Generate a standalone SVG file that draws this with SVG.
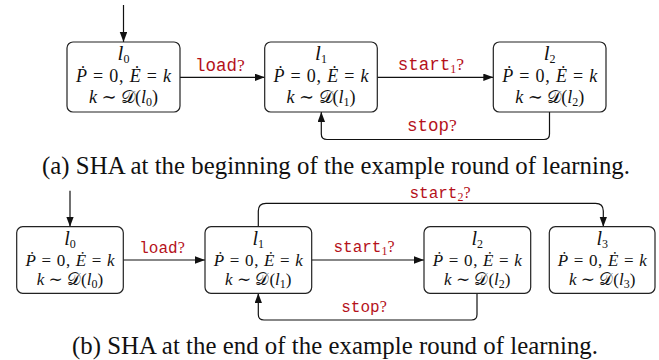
<svg xmlns="http://www.w3.org/2000/svg" width="659" height="360" viewBox="0 0 659 360">
<style>
.box{fill:#fff;stroke:#222;stroke-width:1.2}
.edge{fill:none;stroke:#111;stroke-width:1.2}
.m{font-family:"Liberation Serif","DejaVu Serif",serif;fill:#111;text-anchor:middle}
.mt{font-size:18px}
.mb{font-size:17px}
.h1{font-size:21px}
.h2{font-size:20px}
.i{font-style:italic}
.sub{font-size:12px}
.lbl{font-family:"Liberation Serif","DejaVu Serif",serif;fill:#b5121b;text-anchor:middle}
.tt{font-family:"Liberation Mono","DejaVu Sans Mono",monospace}
.cap{font-family:"Liberation Serif","Times New Roman",serif;font-size:24.8px;fill:#111}
</style>
<defs>
<marker id="ah" markerUnits="userSpaceOnUse" markerWidth="11" markerHeight="8" refX="10" refY="3.75" orient="auto">
<path d="M0,0 L10,3.75 L0,7.5 z" fill="#111"/>
</marker>
</defs>

<g id="connectors">
<path class="edge" d="M123.5,5 V42" marker-end="url(#ah)"/>
<path class="edge" d="M180,77.3 H264.7" marker-end="url(#ah)"/>
<path class="edge" d="M377.3,77.3 H493.3" marker-end="url(#ah)"/>
<path class="edge" d="M549.5,112 V134 Q549.5,139.5 544,139.5 H327 Q321.3,139.5 321.3,134 V112" marker-end="url(#ah)"/>
<path class="edge" d="M70,190.7 V226.7" marker-end="url(#ah)"/>
<path class="edge" d="M123.3,260 H205" marker-end="url(#ah)"/>
<path class="edge" d="M311.7,260 H424" marker-end="url(#ah)"/>
<path class="edge" d="M477,293.3 V314.5 Q477,320 471.5,320 H264 Q258.3,320 258.3,314.5 V293.3" marker-end="url(#ah)"/>
<path class="edge" d="M258.3,226.7 V211 Q258.3,203.3 266,203.3 H595.5 Q603.3,203.3 603.3,211 V226.7" marker-end="url(#ah)"/>
<text class="lbl" x="220" y="70.5" font-size="17.5"><tspan class="tt">load</tspan>?</text>
<text class="lbl" x="431" y="69.5" font-size="17.5"><tspan class="tt">start</tspan><tspan class="sub" dy="3">1</tspan><tspan dy="-3">?</tspan></text>
<text class="lbl" x="432" y="131" font-size="17.5"><tspan class="tt">stop</tspan>?</text>
<text class="lbl" x="162" y="253" font-size="16"><tspan class="tt">load</tspan>?</text>
<text class="lbl" x="364" y="251.5" font-size="16"><tspan class="tt">start</tspan><tspan class="sub" font-size="11" dy="3">1</tspan><tspan dy="-3">?</tspan></text>
<text class="lbl" x="364" y="312" font-size="16"><tspan class="tt">stop</tspan>?</text>
<text class="lbl" x="440" y="197.5" font-size="16"><tspan class="tt">start</tspan><tspan class="sub" font-size="11" dy="3">2</tspan><tspan dy="-3">?</tspan></text>
</g>

<g id="a_l0">
<rect class="box" x="67" y="42" width="113" height="70" rx="6"/>
<text class="m h1" x="123.5" y="60"><tspan class="i">l</tspan><tspan class="sub" font-size="14" dy="3">0</tspan></text>
<text class="m mt" x="123.5" y="82" textLength="95"><tspan class="i">Ṗ</tspan> = 0, <tspan class="i">Ė</tspan> = <tspan class="i">k</tspan></text>
<text class="m mt" x="123.5" y="103"><tspan class="i">k</tspan> ∼ 𝒟(<tspan class="i">l</tspan><tspan class="sub" dy="3">0</tspan><tspan dy="-3">)</tspan></text>
</g>
<g id="a_l1">
<rect class="box" x="264.7" y="42" width="112.6" height="70" rx="6"/>
<text class="m h1" x="321" y="60"><tspan class="i">l</tspan><tspan class="sub" font-size="14" dy="3">1</tspan></text>
<text class="m mt" x="321" y="82" textLength="95"><tspan class="i">Ṗ</tspan> = 0, <tspan class="i">Ė</tspan> = <tspan class="i">k</tspan></text>
<text class="m mt" x="321" y="103"><tspan class="i">k</tspan> ∼ 𝒟(<tspan class="i">l</tspan><tspan class="sub" dy="3">1</tspan><tspan dy="-3">)</tspan></text>
</g>
<g id="a_l2">
<rect class="box" x="493.3" y="42" width="112.7" height="70" rx="6"/>
<text class="m h1" x="549.7" y="60"><tspan class="i">l</tspan><tspan class="sub" font-size="14" dy="3">2</tspan></text>
<text class="m mt" x="549.7" y="82" textLength="95"><tspan class="i">Ṗ</tspan> = 0, <tspan class="i">Ė</tspan> = <tspan class="i">k</tspan></text>
<text class="m mt" x="549.7" y="103"><tspan class="i">k</tspan> ∼ 𝒟(<tspan class="i">l</tspan><tspan class="sub" dy="3">2</tspan><tspan dy="-3">)</tspan></text>
</g>
<g id="caption_a">
<text class="cap" x="42" y="174" textLength="588">(a) SHA at the beginning of the example round of learning.</text>
</g>

<g id="b_l0">
<rect class="box" x="16.7" y="226.7" width="106.6" height="66.6" rx="6"/>
<text class="m h2" x="70" y="245"><tspan class="i">l</tspan><tspan class="sub" font-size="13" dy="3">0</tspan></text>
<text class="m mb" x="70" y="265.5" textLength="89"><tspan class="i">Ṗ</tspan> = 0, <tspan class="i">Ė</tspan> = <tspan class="i">k</tspan></text>
<text class="m mb" x="70" y="284.5"><tspan class="i">k</tspan> ∼ 𝒟(<tspan class="i">l</tspan><tspan class="sub" dy="3">0</tspan><tspan dy="-3">)</tspan></text>
</g>
<g id="b_l1">
<rect class="box" x="205" y="226.7" width="106.7" height="66.6" rx="6"/>
<text class="m h2" x="258.3" y="245"><tspan class="i">l</tspan><tspan class="sub" font-size="13" dy="3">1</tspan></text>
<text class="m mb" x="258.3" y="265.5" textLength="89"><tspan class="i">Ṗ</tspan> = 0, <tspan class="i">Ė</tspan> = <tspan class="i">k</tspan></text>
<text class="m mb" x="258.3" y="284.5"><tspan class="i">k</tspan> ∼ 𝒟(<tspan class="i">l</tspan><tspan class="sub" dy="3">1</tspan><tspan dy="-3">)</tspan></text>
</g>
<g id="b_l2">
<rect class="box" x="424" y="226.7" width="106.7" height="66.6" rx="6"/>
<text class="m h2" x="477.3" y="245"><tspan class="i">l</tspan><tspan class="sub" font-size="13" dy="3">2</tspan></text>
<text class="m mb" x="477.3" y="265.5" textLength="89"><tspan class="i">Ṗ</tspan> = 0, <tspan class="i">Ė</tspan> = <tspan class="i">k</tspan></text>
<text class="m mb" x="477.3" y="284.5"><tspan class="i">k</tspan> ∼ 𝒟(<tspan class="i">l</tspan><tspan class="sub" dy="3">2</tspan><tspan dy="-3">)</tspan></text>
</g>
<g id="b_l3">
<rect class="box" x="549.3" y="226.7" width="105.7" height="66.6" rx="6"/>
<text class="m h2" x="602.2" y="245"><tspan class="i">l</tspan><tspan class="sub" font-size="13" dy="3">3</tspan></text>
<text class="m mb" x="602.2" y="265.5" textLength="89"><tspan class="i">Ṗ</tspan> = 0, <tspan class="i">Ė</tspan> = <tspan class="i">k</tspan></text>
<text class="m mb" x="602.2" y="284.5"><tspan class="i">k</tspan> ∼ 𝒟(<tspan class="i">l</tspan><tspan class="sub" dy="3">3</tspan><tspan dy="-3">)</tspan></text>
</g>
<g id="caption_b">
<text class="cap" x="72" y="354" textLength="526">(b) SHA at the end of the example round of learning.</text>
</g>
</svg>
